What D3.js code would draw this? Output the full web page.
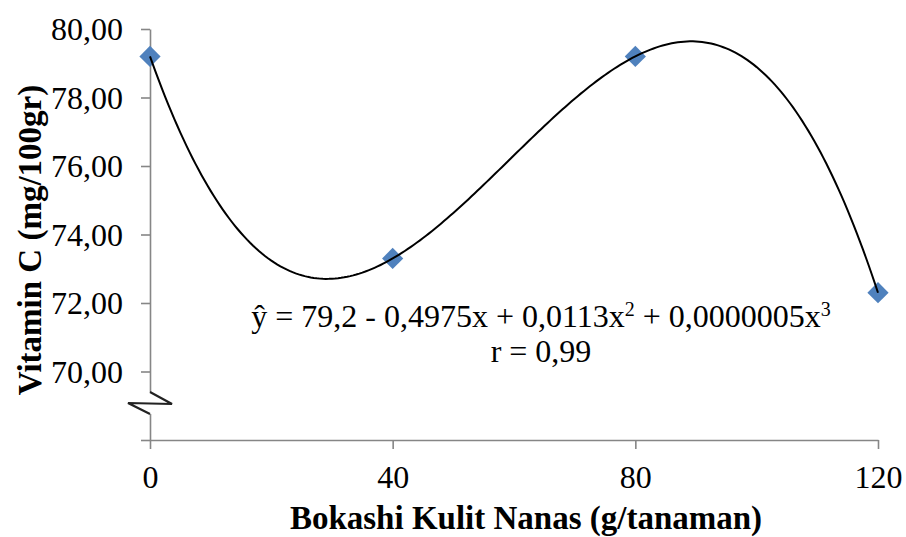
<!DOCTYPE html>
<html>
<head>
<meta charset="utf-8">
<script src="https://cdn.jsdelivr.net/npm/d3@7"></script>
<style>
  body { margin: 0; background: #fff; }
  text { font-family: "Liberation Serif", "Times New Roman", serif; }
</style>
</head>
<body>
<div id="chart"></div>
<script>
// data
const doses = [0, 40, 80, 120];
const vitaminC = [79.2, 73.3, 79.2, 72.3];
const xTicks = [0, 40, 80, 120];
const yTicks = [68, 70, 72, 74, 76, 78, 80];
// equation pieces: [text, superscript?]
const equationParts = [
  ["ŷ = 79,2 - 0,4975x + 0,0113x", false], ["2", true],
  [" + 0,0000005x", false], ["3", true]
];
const rText = "r = 0,99";

const width = 906, height = 537;
const margin = {top: 29, right: 28, bottom: 97, left: 150};

const svg = d3.select("#chart").append("svg")
  .attr("width", width).attr("height", height);

const xScale = d3.scaleLinear().domain([0, 120])
  .range([margin.left, width - margin.right]);
const yScale = d3.scaleLinear().domain([68, 80])
  .range([height - margin.bottom, margin.top]);

const fmt = d => d3.format(".2f")(d).replace(".", ",");

// y axis
const yAxis = svg.append("g")
  .attr("transform", `translate(${margin.left},0)`)
  .call(d3.axisLeft(yScale).tickValues(yTicks).tickSize(9).tickSizeOuter(0)
    .tickFormat(d => d === 68 ? "" : fmt(d)));

// x axis
const xAxis = svg.append("g")
  .attr("transform", `translate(0,${yScale(68)})`)
  .call(d3.axisBottom(xScale).tickValues(xTicks).tickSize(9).tickSizeOuter(0));

[yAxis, xAxis].forEach(ax => {
  ax.selectAll("path.domain, line").attr("stroke", "#868686").attr("stroke-width", 1.6);
  ax.selectAll("text").attr("fill", "#000").style("font-size", "32px")
    .style("font-family", "'Liberation Serif', serif");
});
yAxis.selectAll("text").attr("x", -27).attr("dy", "0.33em");
xAxis.selectAll("text").attr("y", 48).attr("dy", 0);

// axis break
const bx = margin.left, by = 403;
svg.append("rect").attr("x", bx - 6).attr("y", by - 11).attr("width", 12).attr("height", 22).attr("fill", "#fff");
svg.append("path")
  .attr("d", `M${bx},${by - 11} L${bx + 22},${by + 1} L${bx - 22},${by} L${bx},${by + 11}`)
  .attr("fill", "none").attr("stroke", "#222").attr("stroke-width", 2.2)
  .attr("stroke-linejoin", "miter");

// cubic trend line fitted to the points (least squares)
function polyfit(xs, ys, deg) {
  const n = deg + 1;
  const A = d3.range(n).map(i => d3.range(n).map(j => d3.sum(xs, x => Math.pow(x, i + j))));
  const b = d3.range(n).map(i => d3.sum(xs, (x, k) => Math.pow(x, i) * ys[k]));
  for (let c = 0; c < n; c++) {
    let p = c;
    for (let r = c + 1; r < n; r++) if (Math.abs(A[r][c]) > Math.abs(A[p][c])) p = r;
    [A[c], A[p]] = [A[p], A[c]]; [b[c], b[p]] = [b[p], b[c]];
    for (let r = 0; r < n; r++) {
      if (r === c) continue;
      const f = A[r][c] / A[c][c];
      for (let k = c; k < n; k++) A[r][k] -= f * A[c][k];
      b[r] -= f * b[c];
    }
  }
  return b.map((v, i) => v / A[i][i]);
}
const coef = polyfit(doses, vitaminC, 3);
const trend = x => coef.reduce((s, c, i) => s + c * Math.pow(x, i), 0);
const xs = d3.range(0, 120.01, 0.5);

// markers
svg.selectAll("path.pt").data(doses).enter().append("path")
  .attr("class", "pt")
  .attr("d", d3.symbol(d3.symbolSquare, 225))
  .attr("transform", (d, i) => `translate(${xScale(d)},${yScale(vitaminC[i])}) rotate(45)`)
  .attr("fill", "#4F81BD");

svg.append("path").datum(xs)
  .attr("d", d3.line().x(d => xScale(d)).y(d => yScale(trend(d))))
  .attr("fill", "none").attr("stroke", "#000").attr("stroke-width", 2);

// equation
const eq = svg.append("text").attr("x", 541).attr("y", 327).attr("text-anchor", "middle")
  .style("font-size", "32px");
equationParts.forEach(([t, sup], i) => {
  eq.append("tspan")
    .attr("dy", sup ? -11 : (i > 0 ? 11 : 0))
    .style("font-size", sup ? "20px" : "32px")
    .text(t);
});
svg.append("text").attr("x", 541).attr("y", 362).attr("text-anchor", "middle")
  .style("font-size", "32px").text(rText);

// axis titles
svg.append("text")
  .attr("transform", `translate(41,240) rotate(-90)`)
  .attr("text-anchor", "middle").style("font-size", "33px").style("font-weight", "bold")
  .text("Vitamin C (mg/100gr)");
svg.append("text")
  .attr("x", 526).attr("y", 529).attr("text-anchor", "middle")
  .style("font-size", "33px").style("font-weight", "bold")
  .text("Bokashi Kulit Nanas (g/tanaman)");
</script>
</body>
</html>
